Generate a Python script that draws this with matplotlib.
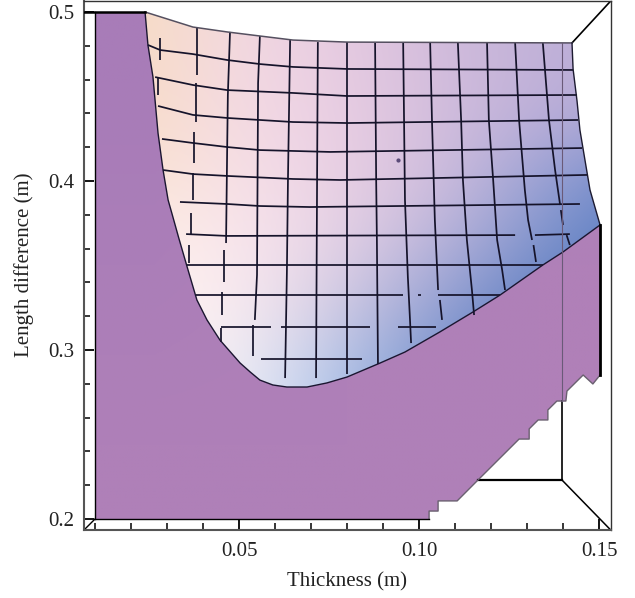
import numpy as np
import matplotlib
matplotlib.use('Agg')
import matplotlib.pyplot as plt
from matplotlib.colors import to_rgb
from matplotlib.patches import Polygon
from matplotlib.ticker import MultipleLocator

plt.rcParams['font.family'] = ['Liberation Serif', 'DejaVu Serif']

# lower boundary of the feasible surface
edge_x = [.0239, .0247, .0261, .0275, .0289, .0303, .0314, .0333, .0356, .0383, .0411, .0447, .0503, .0531, .0558,
          .0594, .0633, .0689, .0744, .08, .0892, .0961, .1058, .115, .1225, .1344, .14, .1503]
edge_y = [.5, .4805, .4615, .4284, .4065, .3888, .3805, .3660, .3491, .3296, .3178, .3059, .2923, .287, .2822,
          .2793, .2781, .2781, .2805, .284, .2923, .2988, .3107, .3225, .3325, .3503, .358, .374]
# top and right side of the surface
top_x = [.0239, .0372, .0467, .0558, .065, .08, .1425, .1428, .1439, .1447, .1461, .1475, .1503]
top_y = [.5, .4911, .4882, .4858, .4834, .4822, .4817, .4663, .4473, .4302, .4124, .3947, .374]
# stepped lower right side of the purple region
stair_x = [.1503, .1483, .1456, .1411, .1408, .1383, .1358, .1358, .1331, .1306, .1306, .1278, .1164, .1106,
           .1053, .1053, .1028, .1028]
stair_y = [.2852, .2799, .2852, .2757, .2698, .2698, .2645, .2586, .2586, .2533, .2473, .2473, .2231, .2107,
           .2107, .2047, .2047, .2]

# surface colours, rows from y=.52 down to y=.28, columns x=.02 to x=.17
surface_colors = [
    ['#F8DDC0', '#F0D8E0', '#E4C8E0', '#CDB8DA', '#BEB0D8', '#BAACD6'],
    ['#F8DCC2', '#F4DAE4', '#E6CAE1', '#CFBADB', '#BEB0D8', '#B8AAD6'],
    ['#F8DCC4', '#F5DCE6', '#E8CCE2', '#CFBBDC', '#BAADD8', '#A8A4D4'],
    ['#FBE4D0', '#F8E2EA', '#E9CFE3', '#CBBADC', '#8A9AD2', '#6080C4'],
    ['#FDF0E8', '#FBE8EF', '#E2CFE4', '#AEADD8', '#6E8AC8', '#4F75BC'],
    ['#FFF5F0', '#FBEDF2', '#C9C6E2', '#8496CF', '#4F75BC', '#4F75BC'],
    ['#FFF8F5', '#F0EFF7', '#A8C0E8', '#6888C8', '#4F75BC', '#4F75BC'],
]

# mesh lines running across
rows = [
    ([.0247, .0281, .0372, .0467, .0558, .065, .08, .1428], [.4805, .4775, .4751, .4716, .4692, .4675, .4663, .4657]),
    ([.0267, .0372, .0467, .065, .08, .1439], [.4615, .4568, .4538, .4521, .4503, .4509]),
    ([.0275, .0372, .0467, .065, .08, .1442], [.4444, .4391, .4373, .4349, .4343, .4361]),
    ([.0286, .0372, .0467, .0558, .0753, .1453], [.4249, .4225, .4201, .4183, .4172, .4195]),
    ([.0289, .0372, .0467, .065, .0781, .1469], [.4065, .4041, .403, .4012, .4006, .4036]),
    ([.0336, .0467, .0558, .0697, .1447], [.3876, .3864, .3852, .3846, .3864]),
    ([.0353, .0467, .1267], [.3686, .3675, .368]),
    ([.1322, .1419], [.368, .3686]),
    ([.0356, .1344], [.3503, .3503]),
    ([.0381, .0956], [.3325, .3325]),
    ([.0997, .1006], [.3325, .3325]),
    ([.1053, .1225], [.3325, .3325]),
    ([.045, .0589], [.3136, .3136]),
    ([.0617, .0864], [.3136, .3136]),
    ([.0942, .1047], [.3136, .3136]),
    ([.0561, .0842], [.2947, .2947]),
]
# mesh lines running up and down
cols = [
    ([.0281, .0281], [.4846, .4716]), ([.0275, .0275], [.4615, .4509]),
    ([.0383, .0383], [.4911, .4627]), ([.0381, .0381], [.458, .4349]), ([.0375, .0375], [.429, .4107]),
    ([.0372, .0372], [.4047, .3888]), ([.0367, .0367], [.3811, .3686]), ([.0361, .0361], [.3621, .3515]),
    ([.0475, .0469, .0467, .0464], [.4882, .4509, .4172, .3633]), ([.0458, .0458], [.3592, .3402]),
    ([.0453, .0453], [.3343, .3207]), ([.045, .045], [.313, .3047]),
    ([.0558, .0553, .055, .0544], [.4858, .458, .3444, .3178]), ([.0539, .0539], [.3148, .2964]),
    ([.0642, .0636, .0633, .0628], [.4834, .4012, .3462, .2834]),
    ([.0719, .0717, .0714], [.4822, .4065, .2834]),
    ([.08, .08], [.4822, .2858]),
    ([.0878, .0881, .0883, .0886], [.4817, .4006, .3651, .2917]),
    ([.0956, .0961, .0969, .0975, .0978], [.4817, .3888, .3432, .3178, .3041]),
    ([.1031, .1036, .1044, .1053], [.4817, .4361, .3769, .3355]), ([.1058, .1064], [.3296, .3178]),
    ([.1108, .1117, .1122, .1133, .1147, .1153], [.4817, .4361, .4006, .3651, .3355, .3207]),
    ([.1189, .1194, .1206, .1217, .1231, .1239], [.4817, .4361, .4006, .3651, .3473, .3355]),
    ([.1267, .1278, .1294, .1303, .1314], [.4817, .4361, .3947, .3769, .3651]), ([.1318, .1325], [.3621, .3521]),
    ([.1344, .1361, .1378, .1392], [.4817, .4361, .4065, .3858]), ([.1394, .14], [.3828, .3740]),
    ([.141, .1419], [.368, .3621]),
]
# small speck on the surface
speck_x = [.0942]
speck_y = [.4124]
xticks_major = [.05, .10, .15]
yticks_major = [.2, .3, .4, .5]

fig = plt.figure(figsize=(6.35, 5.98), dpi=100)
ax = fig.add_axes([84 / 635, 68 / 598, 526.7 / 635, 529 / 598])
xmin, xmax, ymin, ymax = .00694, .15325, .19349, .50651

# purple region under the surface
purple_x = [.01, .01] + edge_x + stair_x + [.01]
purple_y = [.2, .5] + edge_y + stair_y + [.2]
purple = Polygon(np.column_stack([purple_x, purple_y]), fc='none', ec='none')
ax.add_patch(purple)
purple_colors = [['#A87CB8', '#AB7EB8', '#AF80B8'],
                 ['#AB7EB8', '#AF80B8', '#B080B8'],
                 ['#AF80B8', '#AF80B8', '#B080B8']]
im1 = ax.imshow([[to_rgb(c) for c in r] for r in purple_colors], extent=(0, .16, .19, .51), aspect='auto',
                interpolation='bilinear', zorder=1)
im1.set_clip_path(purple)

# the shaded surface
surf_x = top_x + edge_x[::-1]
surf_y = top_y + edge_y[::-1]
surf = Polygon(np.column_stack([surf_x, surf_y]), fc='none', ec='none')
ax.add_patch(surf)
im2 = ax.imshow([[to_rgb(c) for c in r] for r in surface_colors], extent=(.005, .185, .26, .54), aspect='auto',
                interpolation='bicubic', zorder=2)
im2.set_clip_path(surf)

ax.set_xlim(xmin, xmax)
ax.set_ylim(ymin, ymax)

for rx, ry in rows:
    ax.plot(rx, ry, color='#15132a', lw=1.25, zorder=3, solid_capstyle='butt')
for cx, cy in cols:
    ax.plot(cx, cy, color='#15132a', lw=1.25, zorder=3, solid_capstyle='butt')
ax.plot(speck_x, speck_y, 'o', ms=2, color='#5a4a78', zorder=3)

# outlines
ax.plot(edge_x, edge_y, color='#1a1530', lw=1.0, zorder=4)
ax.plot(top_x[:7], top_y[:7], color='#555060', lw=1.1, zorder=4)
ax.plot(top_x[6:], top_y[6:], color='#1c1a30', lw=1.0, zorder=4)
ax.plot(stair_x, stair_y, color='#6a6070', lw=1.0, zorder=4)
ax.plot([.01, .01], [.2, .5], color='black', lw=1.0, zorder=4)
ax.plot([.01, .1028], [.2, .2], color='black', lw=1.0, zorder=4)
ax.plot([xmin, .0239], [.5, .5], color='black', lw=1.8, zorder=4)
ax.plot([.1503, .1503], [.374, .2852], color='black', lw=2.0, zorder=4)

# box edges behind the surface
ax.plot([.1397, .1397], [.4817, .2698], color='#6a5a78', lw=0.8, zorder=4)
ax.plot([.1397, .1397], [.2698, .2231], color='black', lw=1.2, zorder=1)
ax.plot([.1164, .1397], [.2231, .2231], color='black', lw=1.6, zorder=1)
ax.plot([.1397, xmax], [.2231, ymin], color='black', lw=1.1, zorder=1)
ax.plot([.1425, xmax], [.4817, ymax], color='black', lw=1.2, zorder=1)
ax.plot([xmin, .01], [ymin, .2], color='black', lw=1.0, zorder=1)

ax.set_xticks(xticks_major, ['0.05', '0.10', '0.15'])
ax.set_yticks(yticks_major, ['0.2', '0.3', '0.4', '0.5'])
ax.xaxis.set_minor_locator(MultipleLocator(.01))
ax.yaxis.set_minor_locator(MultipleLocator(.02))
ax.tick_params(axis='x', which='major', direction='in', length=8, width=1.3, pad=9, labelsize=15, color='black')
ax.tick_params(axis='x', which='minor', direction='in', length=5, width=1.1)
ax.tick_params(axis='y', which='major', direction='in', length=7, width=1.3, pad=7, labelsize=15, color='black')
ax.tick_params(axis='y', which='minor', direction='in', length=4, width=1.1)
for lab in ax.get_xticklabels() + ax.get_yticklabels():
    lab.set_color('#222222')

for side in ['left', 'bottom']:
    ax.spines[side].set_linewidth(1.5)
    ax.spines[side].set_color('#555555')
for side in ['top', 'right']:
    ax.spines[side].set_linewidth(1.0)
    ax.spines[side].set_color('#333333')

fig.text(347 / 635, 1 - 582 / 598, 'Thickness (m)', ha='center', va='center', fontsize=15, color='#222222')
fig.text(24 / 635, 1 - 265 / 598, 'Length difference (m)', ha='center', va='center', rotation=90,
         fontsize=15, color='#222222')

fig.savefig('out.png', dpi=100)
